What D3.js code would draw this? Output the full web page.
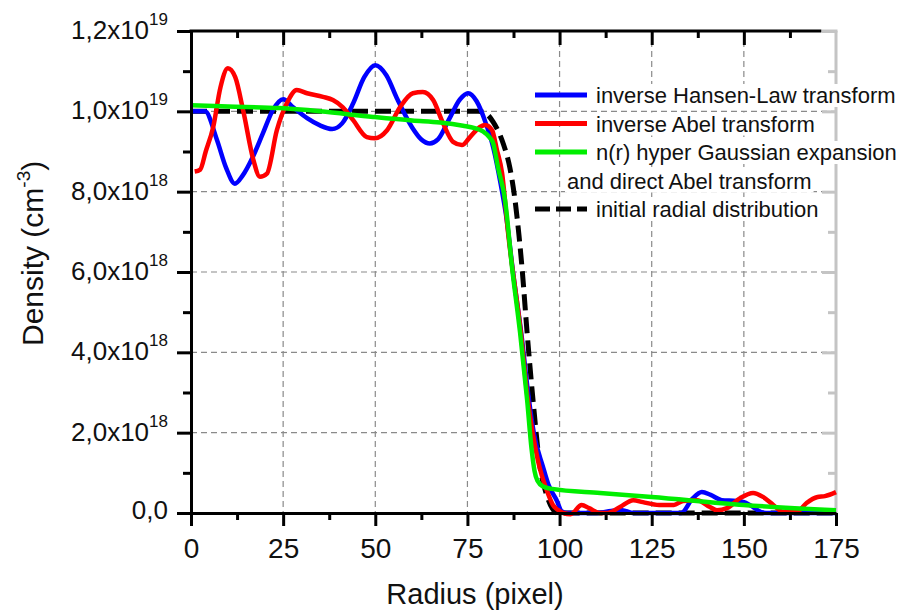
<!DOCTYPE html>
<html>
<head>
<meta charset="utf-8">
<script src="https://cdn.jsdelivr.net/npm/d3@7"></script>
<style>
  body { margin: 0; background: #fff; }
  text { font-family: "Liberation Sans", Arial, sans-serif; fill: #111; }
</style>
</head>
<body>
<div id="chart"></div>
<script>
'use strict';

// density values in units of 1e18 cm^-3, radius in pixel
const hansenR = [0.5, 3.8, 7, 9.5, 11.9, 14, 16.8, 19.5, 22.2, 25, 27.7, 31.5, 35, 38.3, 41, 44, 47, 50, 53, 56, 60, 62.5, 64.8, 67, 70, 73, 75.2, 77.5, 80, 82, 84, 85.5, 87.5, 89.6, 91.7, 93, 95.5, 97, 99.3, 100.5, 102, 110, 114, 117, 120, 133, 136, 138.6, 141, 144, 148, 150, 152.5, 154.5, 156, 175];
const hansenN = [10.0, 10.0, 9.3, 8.6, 8.2, 8.4, 8.87, 9.45, 10.03, 10.3, 10.1, 9.83, 9.65, 9.56, 9.7, 10.2, 10.85, 11.15, 10.9, 10.3, 9.6, 9.3, 9.2, 9.3, 9.8, 10.3, 10.45, 10.25, 9.7, 9.1, 8.2, 7.4, 5.9, 4.48, 2.81, 2.0, 1.15, 0.7, 0.3, 0.05, 0, 0, 0.05, 0.07, 0, 0, 0.35, 0.52, 0.45, 0.32, 0.3, 0.27, 0.15, 0.03, 0, 0];

const abelR = [1, 2.5, 4, 6, 8, 10, 12, 14.2, 16.9, 18.7, 20.6, 23.3, 26, 28.7, 31.5, 35.8, 38.5, 41.2, 44, 47.7, 49.9, 53.2, 56.7, 60.2, 62.9, 65.7, 68.4, 71.1, 73.5, 75.7, 78.4, 79.8, 81.7, 83, 84.4, 86, 89.5, 91.4, 94.1, 96.5, 98.2, 99.5, 101, 103, 106, 108, 111, 113, 116.4, 120, 122.6, 127, 131, 133.5, 137.3, 140.8, 142.7, 145.4, 149, 152.5, 155.2, 158, 160.6, 164.4, 167, 170, 172, 175];
const abelN = [8.5, 8.55, 9.0, 9.6, 10.6, 11.07, 10.85, 10.0, 8.8, 8.37, 8.45, 9.53, 10.2, 10.53, 10.45, 10.36, 10.28, 10.1, 9.78, 9.36, 9.33, 9.53, 10.1, 10.45, 10.48, 10.28, 9.7, 9.24, 9.16, 9.36, 9.61, 9.66, 9.53, 9.04, 8.46, 7.0, 4.48, 2.81, 1.32, 0.57, 0.2, 0.08, 0, -0.03, 0.2, 0.12, 0, 0, 0.15, 0.32, 0.27, 0.2, 0.2, 0.3, 0.32, 0.15, 0.07, 0.12, 0.37, 0.5, 0.4, 0.2, 0.03, 0.03, 0.25, 0.4, 0.42, 0.52];

const gaussR = [0, 10, 24, 35, 49.4, 60, 67.6, 73.8, 77, 79.2, 81, 82, 83.3, 85.2, 87.1, 89.3, 91.2, 92.4, 93.2, 94, 95.5, 98, 111, 125, 150, 175];
const gaussN = [10.15, 10.12, 10.08, 10.0, 9.86, 9.77, 9.72, 9.64, 9.58, 9.5, 9.35, 9.2, 8.6, 7.8, 6.12, 4.48, 2.81, 1.6, 1.05, 0.8, 0.66, 0.6, 0.5, 0.4, 0.2, 0.07];

const initR = [0, 78, 80, 82, 84.7, 86.5, 87.9, 89, 89.8, 91.2, 92.8, 94.7, 96.5, 98, 99.5, 175];
const initN = [10.0, 10.0, 9.95, 9.73, 9.2, 8.6, 7.8, 6.9, 6.12, 4.48, 2.81, 1.15, 0.45, 0.12, 0, 0];

const xMajor = [0, 25, 50, 75, 100, 125, 150, 175];
const xMinor = [12.5, 37.5, 62.5, 87.5, 112.5, 137.5, 162.5];
const yMajor = [0, 2, 4, 6, 8, 10, 12];
const yMinor = [1, 3, 5, 7, 9, 11];
const yMantissa = ["0,0", "2,0", "4,0", "6,0", "8,0", "1,0", "1,2"];
const yExponent = ["", "18", "18", "18", "18", "19", "19"];

const legendNames = ["inverse Hansen-Law transform", "inverse Abel transform", "n(r) hyper Gaussian expansion", "and direct Abel transform", "initial radial distribution"];

const width = 910, height = 610;
const plotLeft = 191, plotRight = 836, plotTop = 31, plotBottom = 513;
const grey = "#c4c4c4";

const svg = d3.select("#chart").append("svg")
    .attr("width", width)
    .attr("height", height);

const x = d3.scaleLinear().domain([0, 175]).range([plotLeft, plotRight]);
const y = d3.scaleLinear().domain([0, 12]).range([plotBottom, plotTop]);

// grid
svg.append("g").selectAll("line")
    .data(xMajor.slice(1, -1))
    .join("line")
    .attr("x1", d => x(d)).attr("x2", d => x(d))
    .attr("y1", plotTop).attr("y2", plotBottom)
    .attr("stroke", "#8a8a8a").attr("stroke-width", 1.2)
    .attr("stroke-dasharray", "6,4");

svg.append("g").selectAll("line")
    .data(yMajor.slice(1, -1))
    .join("line")
    .attr("x1", plotLeft).attr("x2", plotRight)
    .attr("y1", d => y(d)).attr("y2", d => y(d))
    .attr("stroke", "#8a8a8a").attr("stroke-width", 1.2)
    .attr("stroke-dasharray", "6,4");

// right axis (grey) and top axis
const styleAxis = (g, color) => {
    g.select(".domain").remove();
    g.selectAll(".tick line").attr("stroke", color).attr("stroke-width", 3);
    g.selectAll(".tick text").remove();
};

svg.append("g")
    .attr("transform", "translate(" + plotRight + ",0)")
    .call(d3.axisRight(y).tickValues(yMajor).tickSize(-14).tickSizeOuter(0))
    .call(g => styleAxis(g, grey));
svg.append("g")
    .attr("transform", "translate(" + plotRight + ",0)")
    .call(d3.axisRight(y).tickValues(yMinor).tickSize(-8).tickSizeOuter(0))
    .call(g => styleAxis(g, grey));
svg.append("line")
    .attr("x1", plotRight).attr("x2", plotRight)
    .attr("y1", plotTop).attr("y2", plotBottom)
    .attr("stroke", grey).attr("stroke-width", 3);

const topBlackEnd = 171;
svg.append("g")
    .attr("transform", "translate(0," + plotTop + ")")
    .call(d3.axisTop(x).tickValues(xMajor.slice(0, -1)).tickSize(-14).tickSizeOuter(0))
    .call(g => styleAxis(g, "#000"));
svg.append("g")
    .attr("transform", "translate(0," + plotTop + ")")
    .call(d3.axisTop(x).tickValues(xMinor).tickSize(-7).tickSizeOuter(0))
    .call(g => styleAxis(g, "#000"));
svg.append("line")
    .attr("x1", x(topBlackEnd)).attr("x2", plotRight + 1.5)
    .attr("y1", plotTop).attr("y2", plotTop)
    .attr("stroke", grey).attr("stroke-width", 3);
svg.append("line")
    .attr("x1", plotLeft - 1.5).attr("x2", x(topBlackEnd))
    .attr("y1", plotTop).attr("y2", plotTop)
    .attr("stroke", "#000").attr("stroke-width", 3);

// curves
const line = (rs, ns) => d3.line()
    .x(i => x(rs[i]))
    .y(i => y(ns[i]))
    .curve(d3.curveMonotoneX)(d3.range(rs.length));

const series = [
    { r: initR, n: initN, color: "#000", dash: "16,7", w: 5 },
    { r: hansenR, n: hansenN, color: "#0000ff", dash: null, w: 4.5 },
    { r: abelR, n: abelN, color: "#ff0000", dash: null, w: 4.5 },
    { r: gaussR, n: gaussN, color: "#00ee00", dash: null, w: 4.5 }
];

series.forEach(s => {
    svg.append("path")
        .attr("d", line(s.r, s.n))
        .attr("fill", "none")
        .attr("stroke", s.color)
        .attr("stroke-width", s.w)
        .attr("stroke-dasharray", s.dash)
        .attr("stroke-linejoin", "round");
});

// bottom axis
const bottomAxis = svg.append("g")
    .attr("transform", "translate(0," + plotBottom + ")")
    .call(d3.axisBottom(x).tickValues(xMajor).tickSize(13).tickSizeOuter(0).tickFormat(d3.format("d")));
bottomAxis.select(".domain").attr("stroke-width", 3).attr("stroke", "#000");
bottomAxis.selectAll(".tick line").attr("stroke-width", 3);
bottomAxis.selectAll(".tick text")
    .attr("y", 0).attr("dy", null)
    .attr("transform", "translate(0,45)")
    .style("font-size", "28px")
    .style("font-family", "'Liberation Sans', Arial, sans-serif")
    .attr("fill", "#111");
svg.append("g")
    .attr("transform", "translate(0," + plotBottom + ")")
    .call(d3.axisBottom(x).tickValues(xMinor).tickSize(7).tickSizeOuter(0))
    .call(g => styleAxis(g, "#000"));

// left axis
const leftAxis = svg.append("g")
    .attr("transform", "translate(" + plotLeft + ",0)")
    .call(d3.axisLeft(y).tickValues(yMajor).tickSize(14).tickSizeOuter(0).tickFormat(""));
leftAxis.select(".domain").attr("stroke-width", 3);
leftAxis.selectAll(".tick line").attr("stroke-width", 3);
svg.append("g")
    .attr("transform", "translate(" + plotLeft + ",0)")
    .call(d3.axisLeft(y).tickValues(yMinor).tickSize(8).tickSizeOuter(0))
    .call(g => styleAxis(g, "#000"));

const yLabels = svg.append("g").selectAll("text")
    .data(yMajor)
    .join("text")
    .attr("x", 168)
    .attr("y", (d, i) => y(d) + (yExponent[i] ? 8 : 6))
    .attr("text-anchor", "end")
    .style("font-size", "26px");
yLabels.append("tspan").text((d, i) => yMantissa[i] + (yExponent[i] ? "x10" : ""));
yLabels.filter((d, i) => yExponent[i])
    .append("tspan")
    .attr("dy", -14)
    .style("font-size", "17px")
    .text((d) => yExponent[yMajor.indexOf(d)]);

// axis titles
svg.append("text")
    .attr("x", 475).attr("y", 604)
    .attr("text-anchor", "middle")
    .style("font-size", "29px")
    .text("Radius (pixel)");

const yTitle = svg.append("text")
    .attr("transform", "translate(43,346) rotate(-90)")
    .style("font-size", "30px");
yTitle.append("tspan").text("Density (cm");
yTitle.append("tspan").attr("dy", -13).style("font-size", "19px").text("-3");
yTitle.append("tspan").attr("dy", 13).text(")");

// legend
const legendKeys = [
    { color: "#0000ff", dash: null },
    { color: "#ff0000", dash: null },
    { color: "#00ee00", dash: null },
    null,
    { color: "#000", dash: "15,6" }
];
const legend = svg.append("g");
legendNames.forEach((name, i) => {
    const base = 103 + 28.5 * i;
    const tx = legendKeys[i] ? 596 : 567;
    const bg = legend.append("rect").attr("fill", "#fff");
    const t = legend.append("text")
        .attr("x", tx).attr("y", base)
        .style("font-size", "22px")
        .text(name);
    const bb = t.node().getBBox();
    bg.attr("x", bb.x - 2).attr("y", bb.y + 1)
        .attr("width", bb.width + 4).attr("height", bb.height - 2);
    if (legendKeys[i]) {
        legend.append("line")
            .attr("x1", 535).attr("x2", 587)
            .attr("y1", base - 8).attr("y2", base - 8)
            .attr("stroke", legendKeys[i].color)
            .attr("stroke-width", 5)
            .attr("stroke-dasharray", legendKeys[i].dash);
    }
});
</script>
</body>
</html>
